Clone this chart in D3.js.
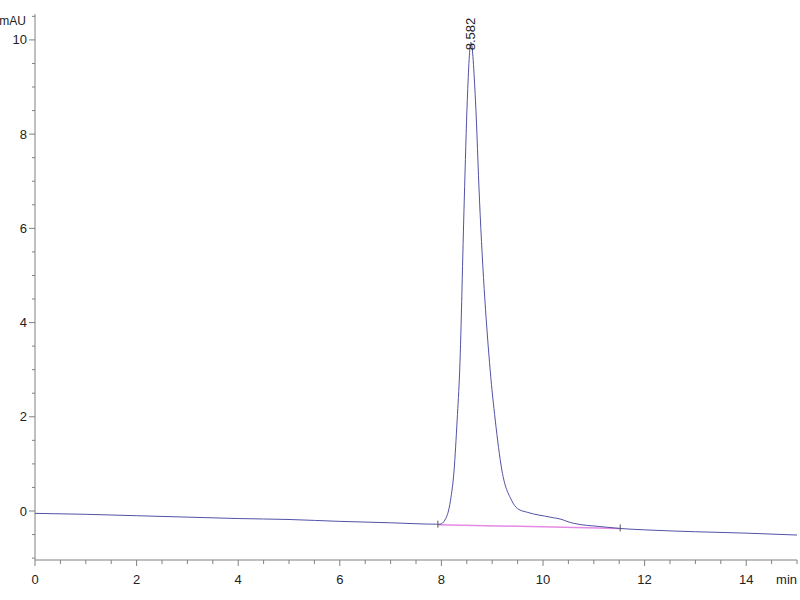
<!DOCTYPE html>
<html>
<head>
<meta charset="utf-8">
<script src="https://cdn.jsdelivr.net/npm/d3@7"></script>
<style>
  body { margin: 0; background: #fff; }
  text { font-family: "Liberation Sans", Arial, sans-serif; }
</style>
</head>
<body>
<div id="chart"></div>
<script>
// chromatogram trace (min, mAU)
const times = [0, 1, 2, 3, 4, 5, 6, 7, 7.5, 7.9, 7.97, 8.07, 8.18, 8.25, 8.31, 8.36, 8.45, 8.51, 8.582,
  8.67, 8.75, 8.96, 9.06, 9.19, 9.38, 9.5, 9.7, 10.14, 10.4, 10.47, 10.6, 11.12, 11.5, 12, 13, 14, 15];
const signal = [-0.05, -0.07, -0.10, -0.13, -0.16, -0.18, -0.22, -0.25, -0.27, -0.28, -0.28, -0.19, 0.23, 0.87,
  1.93, 2.99, 6.6, 8.73, 9.95, 8.73, 6.6, 2.99, 1.93, 0.87, 0.23, 0.05, -0.03, -0.13, -0.19, -0.22, -0.26,
  -0.33, -0.37, -0.40, -0.44, -0.47, -0.51];

// integration baseline
const baseTimes = [7.93, 11.52];
const baseSignal = [-0.29, -0.37];

const peakTime = 8.582;
const peakValue = 9.95;
const peakLabel = "8.582";

const xMajor = [0, 2, 4, 6, 8, 10, 12, 14];
const yMajor = [0, 2, 4, 6, 8, 10];

const width = 800, height = 600;
const svg = d3.select("#chart").append("svg")
  .attr("width", width).attr("height", height);

const x = d3.scaleLinear().domain([0, 15]).range([35, 797]);
const y = d3.scaleLinear().domain([-1.04, 10.55]).range([560, 14]);

const axisColor = "#808080";

// x axis
const xMinor = d3.range(0, 15.01, 0.5);
const gx = svg.append("g").attr("transform", "translate(0,560)");
gx.append("line").attr("x1", x(0)).attr("x2", x(15)).attr("stroke", axisColor);
gx.selectAll("line.minor").data(xMinor).join("line")
  .attr("class", "minor")
  .attr("x1", d => x(d)).attr("x2", d => x(d))
  .attr("y1", 0).attr("y2", d => xMajor.includes(d) ? 6 : 4)
  .attr("stroke", axisColor);
gx.selectAll("text").data(xMajor).join("text")
  .attr("x", d => x(d)).attr("y", 24)
  .attr("text-anchor", "middle")
  .attr("font-size", 13).attr("fill", "#222")
  .text(d => d);
gx.append("text").attr("x", 797).attr("y", 24)
  .attr("text-anchor", "end").attr("font-size", 13).attr("fill", "#222")
  .text("min");

// y axis
const yMinor = d3.range(-1, 10.51, 0.5);
const gy = svg.append("g").attr("transform", "translate(35,0)");
gy.append("line").attr("y1", y(-1.04)).attr("y2", y(10.55)).attr("stroke", axisColor);
gy.selectAll("line.minor").data(yMinor).join("line")
  .attr("class", "minor")
  .attr("y1", d => y(d)).attr("y2", d => y(d))
  .attr("x1", 0).attr("x2", d => yMajor.includes(d) ? -6 : -3)
  .attr("stroke", axisColor);
gy.selectAll("text").data(yMajor).join("text")
  .attr("x", -8).attr("y", d => y(d) + 4.5)
  .attr("text-anchor", "end")
  .attr("font-size", 13).attr("fill", "#222")
  .text(d => d);
gy.append("text").attr("x", -9).attr("y", 25)
  .attr("text-anchor", "end").attr("font-size", 12).attr("fill", "#222")
  .text("mAU");

// baseline of integration
svg.append("line")
  .attr("x1", x(baseTimes[0])).attr("y1", y(baseSignal[0]))
  .attr("x2", x(baseTimes[1])).attr("y2", y(baseSignal[1]))
  .attr("stroke", "#e58ae5").attr("stroke-width", 1.5);

// trace
const line = d3.line()
  .x((d, i) => x(times[i]))
  .y(d => y(d))
  .curve(d3.curveMonotoneX);
svg.append("path").datum(signal)
  .attr("d", line)
  .attr("fill", "none")
  .attr("stroke", "#5252a6")
  .attr("stroke-width", 1);

// start / end markers
svg.selectAll("line.mark").data(baseTimes).join("line")
  .attr("class", "mark")
  .attr("x1", d => x(d)).attr("x2", d => x(d))
  .attr("y1", (d, i) => y(baseSignal[i]) - 4).attr("y2", (d, i) => y(baseSignal[i]) + 3)
  .attr("stroke", "#555");

// peak label
svg.append("text")
  .attr("transform", `translate(${x(peakTime) + 4.5},${y(peakValue) + 8}) rotate(-90)`)
  .attr("font-size", 13).attr("fill", "#222")
  .text(peakLabel);
</script>
</body>
</html>
